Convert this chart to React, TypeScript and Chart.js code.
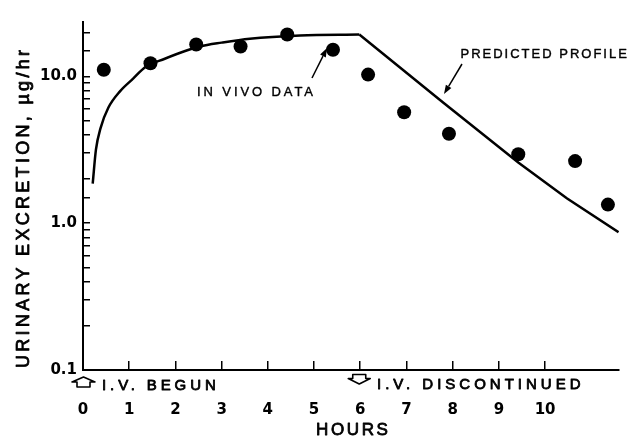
import { useEffect, useRef } from 'react';
import { Chart, registerables } from 'chart.js';

Chart.register(...registerables);

// Observed in vivo data (hours, µg/hr)
const observedHours = [0.45, 1.46, 2.45, 3.41, 4.42, 5.41, 6.17, 6.95, 7.92, 9.42, 10.65, 11.36];
const observedRate = [11.1, 12.3, 16.5, 16.0, 19.3, 15.2, 10.3, 5.7, 4.07, 2.95, 2.65, 1.34];

// Predicted profile during infusion
const infusionHours = [0.21, 0.28, 0.38, 0.55, 0.8, 1.09, 1.35, 1.77, 2.21, 2.53, 3.0, 3.61, 4.7, 5.98];
const infusionRate = [1.86, 3.17, 4.45, 6.14, 7.92, 9.7, 11.6, 13.2, 14.9, 16.0, 17.0, 18.1, 19.05, 19.3];

// Predicted profile after infusion stopped
const washoutHours = [5.98, 6.86, 7.8, 9.42, 10.47, 11.59];
const washoutRate = [19.3, 11.5, 6.62, 2.59, 1.48, 0.87];

const xTickValues = [0, 1, 2, 3, 4, 5, 6, 7, 8, 9, 10];
const yMajorValues = [0.1, 1, 10];
const yMajorLabels = ['0.1', '1.0', '10.0'];

const yTitle = 'URINARY EXCRETION, µg/hr';
const xTitle = 'HOURS';
const startLabel = 'I.V. BEGUN';
const stopLabel = 'I.V. DISCONTINUED';
const dataLabel = 'IN VIVO DATA';
const profileLabel = 'PREDICTED PROFILE';

const FONT = '"Liberation Sans", Arial, Helvetica, sans-serif';

const annotate = {
  id: 'annotate',
  afterDraw(chart: any) {
    const ctx: CanvasRenderingContext2D = chart.ctx;
    ctx.save();
    ctx.fillStyle = '#000';
    ctx.strokeStyle = '#000';
    const text = (s: string, px: number, py: number, size: number, spacing: number, align: CanvasTextAlign = 'left', thick = 0.6) => {
      ctx.font = `normal ${size}px ${FONT}`;
      (ctx as any).letterSpacing = spacing + 'px';
      ctx.textAlign = align;
      ctx.textBaseline = 'alphabetic';
      const tx = align === 'center' ? px + spacing / 2 : px;
      ctx.fillText(s, tx, py);
      if (thick > 0) {
        ctx.lineWidth = thick;
        ctx.lineJoin = 'round';
        ctx.strokeText(s, tx, py);
      }
    };
    const arrow = (x1: number, y1: number, x2: number, y2: number) => {
      const a = Math.atan2(y2 - y1, x2 - x1);
      const len = 9, hw = 3.2;
      const bx = x2 - len * Math.cos(a), by = y2 - len * Math.sin(a);
      ctx.lineWidth = 1.5;
      ctx.beginPath();
      ctx.moveTo(x1, y1);
      ctx.lineTo(bx, by);
      ctx.stroke();
      ctx.beginPath();
      ctx.moveTo(x2, y2);
      ctx.lineTo(bx + hw * Math.sin(a), by - hw * Math.cos(a));
      ctx.lineTo(bx - hw * Math.sin(a), by + hw * Math.cos(a));
      ctx.closePath();
      ctx.fill();
    };

    // Y title
    ctx.save();
    ctx.translate(29, 209);
    ctx.rotate(-Math.PI / 2);
    text(yTitle, 0, 0, 18, 3.3, 'center', 0.8);
    ctx.restore();

    // X title
    text(xTitle, 352, 435, 17, 2.6, 'center', 0.8);

    const xs = chart.scales.x;
    // start marker (up outline arrow)
    const sx = xs.getPixelForValue(0) + 0.5;
    ctx.lineWidth = 1.6;
    ctx.beginPath();
    ctx.moveTo(sx, 377);
    ctx.lineTo(sx + 11.5, 382);
    ctx.lineTo(sx + 6.5, 382);
    ctx.lineTo(sx + 6.5, 387);
    ctx.lineTo(sx - 6.5, 387);
    ctx.lineTo(sx - 6.5, 382);
    ctx.lineTo(sx - 11.5, 382);
    ctx.closePath();
    ctx.stroke();
    text(startLabel, 102, 389.5, 15, 3.9, 'left', 0.8);

    // stop marker (down outline arrow)
    const dx = xs.getPixelForValue(6) - 1;
    ctx.lineWidth = 1.6;
    ctx.beginPath();
    ctx.moveTo(dx - 6.5, 374.5);
    ctx.lineTo(dx + 6.5, 374.5);
    ctx.lineTo(dx + 6.5, 378.5);
    ctx.lineTo(dx + 11, 378.5);
    ctx.lineTo(dx, 384);
    ctx.lineTo(dx - 11, 378.5);
    ctx.lineTo(dx - 6.5, 378.5);
    ctx.closePath();
    ctx.stroke();
    text(stopLabel, 377, 389, 15, 4.0, 'left', 0.8);

    // annotations
    text(dataLabel, 197, 95.5, 13, 2.9, 'left', 0.4);
    arrow(312, 78, 327, 48);
    text(profileLabel, 460.5, 58, 13, 2.0, 'left', 0.4);
    arrow(462, 64, 444, 94);

    ctx.restore();
  },
};

export default function App() {
  const ref = useRef<HTMLCanvasElement | null>(null);

  useEffect(() => {
    if (!ref.current) return;
    const near = (a: number, b: number) => Math.abs(a - b) < 1e-6 * Math.max(1, b);
    const chart = new Chart(ref.current, {
      type: 'scatter',
      data: {
        datasets: [
          {
            label: 'In vivo data',
            data: observedHours.map((h, i) => ({ x: h, y: observedRate[i] })),
            showLine: false,
            pointRadius: 7,
            pointBorderWidth: 0,
            pointBackgroundColor: '#000',
            backgroundColor: '#000',
          },
          {
            label: 'Predicted profile (infusion)',
            data: infusionHours.map((h, i) => ({ x: h, y: infusionRate[i] })),
            showLine: true,
            pointRadius: 0,
            borderColor: '#000',
            borderWidth: 2.5,
            cubicInterpolationMode: 'monotone',
          },
          {
            label: 'Predicted profile (post-infusion)',
            data: washoutHours.map((h, i) => ({ x: h, y: washoutRate[i] })),
            showLine: true,
            pointRadius: 0,
            borderColor: '#000',
            borderWidth: 2.5,
            tension: 0,
          },
        ],
      },
      options: {
        responsive: false,
        animation: false,
        devicePixelRatio: 1,
        layout: { padding: { left: 0, right: 11, top: 12, bottom: 0 } },
        plugins: { legend: { display: false }, tooltip: { enabled: false } },
        scales: {
          x: {
            type: 'linear',
            position: 'bottom',
            min: 0,
            max: 11.6,
            border: { display: true, color: '#000', width: 2 },
            grid: { display: true, drawOnChartArea: false, drawTicks: true, tickLength: -9, color: '#000', lineWidth: 1.5 },
            afterBuildTicks: (s: any) => {
              s.ticks = xTickValues.map((v) => ({ value: v }));
            },
            ticks: {
              autoSkip: false,
              maxRotation: 0,
              padding: 40,
              color: '#000',
              font: { family: 'DejaVu Sans', weight: 'bold', size: 15 },
              callback: (v: any) => String(v),
            },
            afterFit: (s: any) => {
              s.height = 69;
            },
          },
          y: {
            type: 'logarithmic',
            position: 'left',
            min: 0.1,
            max: 23.5,
            border: { display: true, color: '#000', width: 2 },
            grid: { display: true, drawOnChartArea: false, drawTicks: true, tickLength: -7, color: '#000', lineWidth: 1.5 },
            afterBuildTicks: (s: any) => {
              s.ticks = s.ticks.filter((t: any) => t.value <= 20.0001);
            },
            ticks: {
              autoSkip: false,
              padding: 13,
              color: '#000',
              font: { family: 'DejaVu Sans', weight: 'bold', size: 15 },
              callback: (v: any) => {
                const idx = yMajorValues.findIndex((m) => near(Number(v), m));
                return idx >= 0 ? yMajorLabels[idx] : '';
              },
            },
            afterFit: (s: any) => {
              s.width = 83;
            },
          },
        },
      },
      plugins: [annotate],
    } as any);
    return () => chart.destroy();
  }, []);

  return (
    <div style={{ position: 'absolute', left: 0, top: 0, width: 630, height: 439, background: '#fff' }}>
      <canvas ref={ref} width={630} height={439} />
    </div>
  );
}
